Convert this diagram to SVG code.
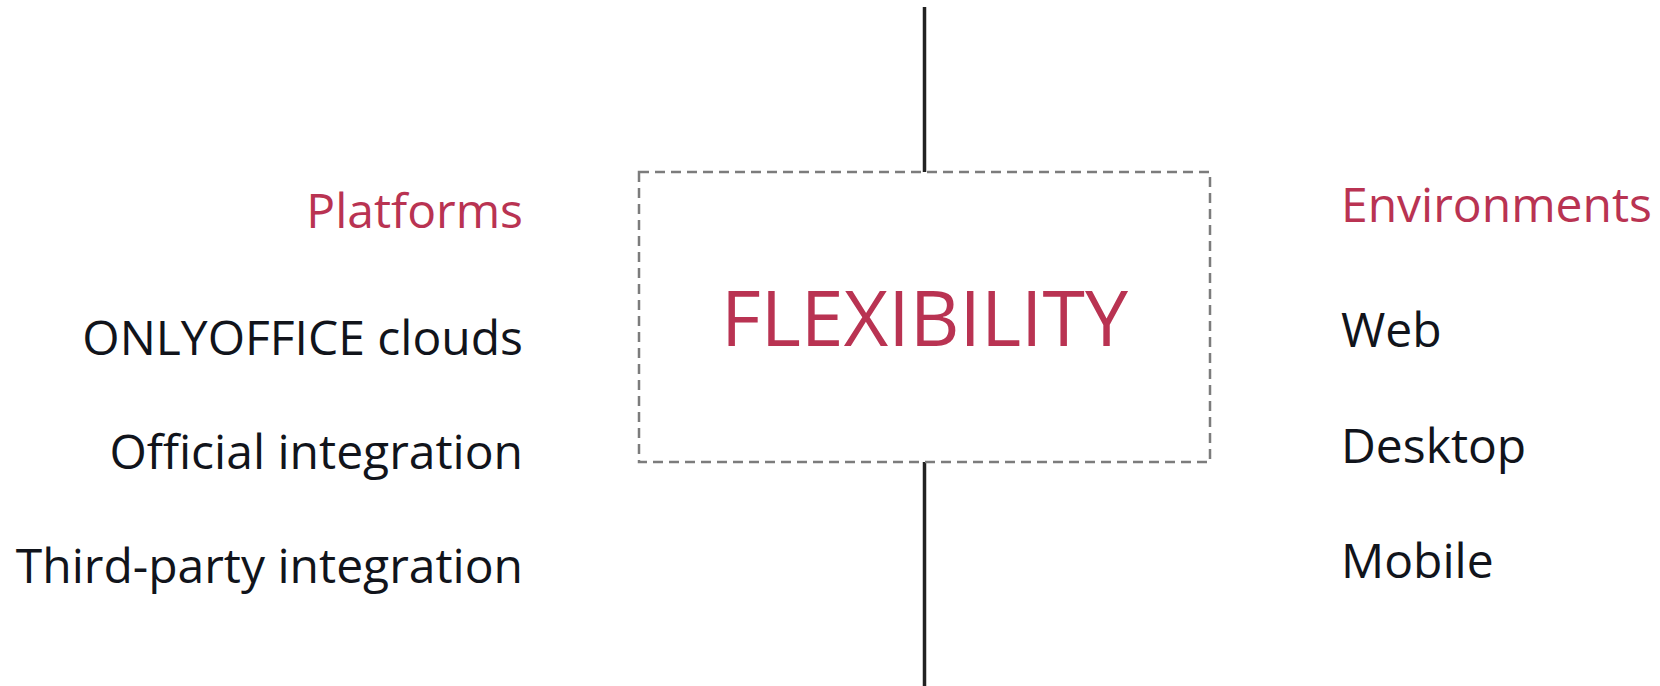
<svg xmlns="http://www.w3.org/2000/svg" width="1660" height="686" viewBox="0 0 1660 686">
<style>
.hd{font-family:"Open Sans","Liberation Sans",sans-serif;font-size:48px;fill:#b93352}
.it{font-family:"Open Sans","Liberation Sans",sans-serif;font-size:48px;fill:#11141b}
.l{text-anchor:end}
.title{font-family:"Open Sans","Liberation Sans",sans-serif;font-size:77px;fill:#b93352;text-anchor:middle}
</style>
<rect width="1660" height="686" fill="#ffffff"/>
<g id="connectors">
<line x1="924.5" y1="7" x2="924.5" y2="172" stroke="#222" stroke-width="3.5"/>
<line x1="924.5" y1="462" x2="924.5" y2="686" stroke="#222" stroke-width="3.5"/>
</g>
<g id="flexibility">
<rect x="639" y="172" width="571" height="290" fill="none" stroke="#7c7c7c" stroke-width="2.5" stroke-dasharray="10,6"/>
<text class="title" x="924.5" y="346">FLEXIBILITY</text>
</g>
<g id="platforms">
<text class="hd l" x="523" y="228">Platforms</text>
<text class="it l" x="523" y="355">ONLYOFFICE clouds</text>
<text class="it l" x="523" y="469">Official integration</text>
<text class="it l" x="523" y="583">Third-party integration</text>
</g>
<g id="environments">
<text class="hd" x="1341" y="222">Environments</text>
<text class="it" x="1341" y="347">Web</text>
<text class="it" x="1341" y="463">Desktop</text>
<text class="it" x="1341" y="578">Mobile</text>
</g>
</svg>
